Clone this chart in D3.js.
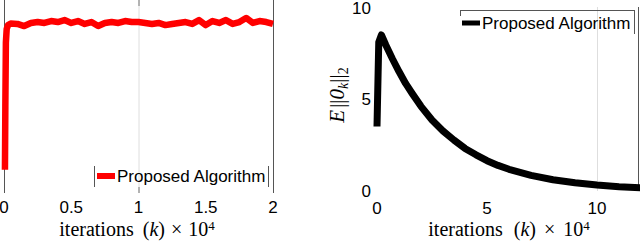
<!DOCTYPE html>
<html>
<head>
<meta charset="utf-8">
<script src="https://cdn.jsdelivr.net/npm/d3@7"></script>
<style>
  body { margin: 0; background: #fff; }
  svg { display: block; }
  .tick-label { font-family: "Liberation Sans", Arial, sans-serif; font-size: 17px; fill: #000; }
  .legend-text { font-family: "Liberation Sans", Arial, sans-serif; font-size: 17px; fill: #000; }
  .math { font-family: "Liberation Serif", "Times New Roman", serif; font-size: 20px; fill: #000; }
</style>
</head>
<body>
<div id="chart"></div>
<script>
// left panel data (iterations x 10^4)
var leftK = [0.007, 0.01, 0.014, 0.02, 0.03, 0.05, 0.10, 0.15, 0.20, 0.25, 0.30, 0.35, 0.40, 0.45,
             0.50, 0.55, 0.60, 0.65, 0.70, 0.75, 0.80, 0.85, 0.90, 0.95, 1.00, 1.05, 1.10, 1.15,
             1.20, 1.25, 1.30, 1.35, 1.40, 1.45, 1.50, 1.55, 1.60, 1.65, 1.70, 1.75, 1.80, 1.85,
             1.90, 1.95, 2.00];
var leftV = [0.12, 0.45, 0.78, 0.85, 0.87, 0.878, 0.876, 0.865, 0.881, 0.886, 0.881, 0.891, 0.886, 0.896,
             0.881, 0.891, 0.876, 0.886, 0.865, 0.881, 0.886, 0.881, 0.891, 0.886, 0.886, 0.881, 0.876, 0.881,
             0.870, 0.876, 0.881, 0.886, 0.876, 0.896, 0.870, 0.891, 0.881, 0.896, 0.876, 0.886, 0.907, 0.881,
             0.891, 0.886, 0.876];
var leftTicks = [0, 0.5, 1, 1.5, 2];
var leftGrid = [1];

// right panel data
var rightK = [0, 0.08, 0.2, 0.4, 0.7, 1, 1.3, 1.6, 2, 2.5, 3, 3.5, 4, 4.5, 5, 5.5, 6, 7, 8, 9, 10, 11, 12];
var rightV = [3.5, 8.1, 8.5, 7.95, 7.2, 6.5, 5.85, 5.3, 4.6, 3.85, 3.25, 2.75, 2.3, 1.95, 1.63, 1.37, 1.16,
              0.83, 0.59, 0.42, 0.3, 0.21, 0.15];
var rightXTicks = [0, 5, 10];
var rightYTicks = [0, 5, 10];
var rightGrid = [10];

var legendLabel = "Proposed Algorithm";

var width = 640, height = 242;

var svg = d3.select("#chart")
    .append("svg")
    .attr("width", width)
    .attr("height", height);

// ---------- left panel ----------
var xL = d3.scaleLinear().domain([0, 2]).range([4, 273]);
var yL = d3.scaleLinear().domain([0, 1]).range([193, 0]);

var left = svg.append("g");

left.selectAll(".gridL")
    .data(leftGrid)
    .enter()
    .append("line")
    .attr("x1", function(d) { return xL(d) + 0.5; })
    .attr("x2", function(d) { return xL(d) + 0.5; })
    .attr("y1", 0)
    .attr("y2", 193)
    .style("stroke", "#dedede")
    .style("stroke-width", 1);

// small tick marks on the grid line, top and bottom
leftGrid.forEach(function(t) {
    left.append("line")
        .attr("x1", xL(t) + 0.5).attr("x2", xL(t) + 0.5)
        .attr("y1", 0).attr("y2", 6)
        .style("stroke", "#777");
    left.append("line")
        .attr("x1", xL(t) + 0.5).attr("x2", xL(t) + 0.5)
        .attr("y1", 187).attr("y2", 193)
        .style("stroke", "#777");
});

// box sides
[0, 2].forEach(function(t) {
    left.append("line")
        .attr("x1", xL(t) + 0.5).attr("x2", xL(t) + 0.5)
        .attr("y1", 0).attr("y2", 193)
        .style("stroke", "#555")
        .style("stroke-width", 1);
});

left.append("path")
    .datum(leftK.map(function(k, i) { return [k, leftV[i]]; }))
    .attr("d", d3.line()
        .x(function(d) { return xL(d[0]); })
        .y(function(d) { return yL(d[1]); }))
    .style("fill", "none")
    .style("stroke", "#ff0000")
    .style("stroke-width", 6.5)
    .style("stroke-linejoin", "round");

left.selectAll(".tlL")
    .data(leftTicks)
    .enter()
    .append("text")
    .attr("class", "tick-label")
    .attr("x", function(d) { return xL(d); })
    .attr("y", 213)
    .attr("text-anchor", "middle")
    .text(function(d) { return d; });

// legend (left)
var legL = left.append("g");
legL.append("line").attr("x1", 94.5).attr("x2", 94.5).attr("y1", 166).attr("y2", 187).style("stroke", "#555");
legL.append("line").attr("x1", 268.5).attr("x2", 268.5).attr("y1", 166).attr("y2", 187).style("stroke", "#555");
legL.append("line").attr("x1", 97).attr("x2", 115).attr("y1", 176).attr("y2", 176)
    .style("stroke", "#ff0000").style("stroke-width", 6);
legL.append("text").attr("class", "legend-text")
    .attr("x", 117).attr("y", 182)
    .text(legendLabel);

// x label: iterations (k) x 10^4, with math-like spacing
function xlabel(g, cx, y, gap) {
    var t = g.append("text").attr("class", "math")
        .attr("x", cx).attr("y", y)
        .attr("text-anchor", "middle");
    t.append("tspan").text("iterations");
    t.append("tspan").attr("dx", gap + 3).text("(");
    t.append("tspan").style("font-style", "italic").text("k");
    t.append("tspan").text(")");
    t.append("tspan").attr("dx", gap).text("\u00d7");
    t.append("tspan").attr("dx", gap).text("10");
    t.append("tspan").attr("dy", -6).style("font-size", "13px").text("4");
}
xlabel(left, 137, 236, 6);

// ---------- right panel ----------
var xR = d3.scaleLinear().domain([0, 12]).range([377, 641]);
var yR = d3.scaleLinear().domain([0, 10]).range([190.5, 7.5]);

var right = svg.append("g");

right.selectAll(".gridR")
    .data(rightGrid)
    .enter()
    .append("line")
    .attr("x1", function(d) { return xR(d) + 0.5; })
    .attr("x2", function(d) { return xR(d) + 0.5; })
    .attr("y1", 7)
    .attr("y2", 191)
    .style("stroke", "#dedede");

right.append("line")
    .attr("x1", 638.5).attr("x2", 638.5)
    .attr("y1", 7).attr("y2", 191)
    .style("stroke", "#555");

right.append("path")
    .datum(rightK.map(function(k, i) { return [k, rightV[i]]; }))
    .attr("d", d3.line()
        .x(function(d) { return xR(d[0]); })
        .y(function(d) { return yR(d[1]); }))
    .style("fill", "none")
    .style("stroke", "#000")
    .style("stroke-width", 7)
    .style("stroke-linejoin", "round");

right.selectAll(".txR")
    .data(rightXTicks)
    .enter()
    .append("text")
    .attr("class", "tick-label")
    .attr("x", function(d) { return xR(d); })
    .attr("y", 214)
    .attr("text-anchor", "middle")
    .text(function(d) { return d; });

right.selectAll(".tyR")
    .data(rightYTicks)
    .enter()
    .append("text")
    .attr("class", "tick-label")
    .attr("x", 371)
    .attr("y", function(d) { return yR(d) + 6; })
    .attr("text-anchor", "end")
    .text(function(d) { return d; });

xlabel(right, 509, 236, 8);

// y label E||0_k||_2
var yl = right.append("text").attr("class", "math")
    .attr("transform", "translate(344,95) rotate(-90)")
    .attr("text-anchor", "middle")
    .style("font-size", "21px");
yl.append("tspan").style("font-style", "italic").text("E");
yl.append("tspan").attr("dx", 2).text("||");
yl.append("tspan").style("font-style", "italic").text("0");
yl.append("tspan").attr("dy", 4).style("font-size", "14px").style("font-style", "italic").text("k");
yl.append("tspan").attr("dy", -4).text("||");
yl.append("tspan").attr("dy", 4).style("font-size", "14px").text("2");

// legend (right)
var legR = right.append("g");
legR.append("line").attr("x1", 460).attr("x2", 634.5).attr("y1", 10.5).attr("y2", 10.5).style("stroke", "#555");
legR.append("line").attr("x1", 460.5).attr("x2", 460.5).attr("y1", 10).attr("y2", 16).style("stroke", "#555");
legR.append("line").attr("x1", 634.5).attr("x2", 634.5).attr("y1", 10).attr("y2", 34).style("stroke", "#555");
legR.append("line").attr("x1", 462).attr("x2", 480).attr("y1", 23).attr("y2", 23)
    .style("stroke", "#000").style("stroke-width", 5);
legR.append("text").attr("class", "legend-text")
    .attr("x", 482).attr("y", 29)
    .text(legendLabel);
</script>
</body>
</html>
